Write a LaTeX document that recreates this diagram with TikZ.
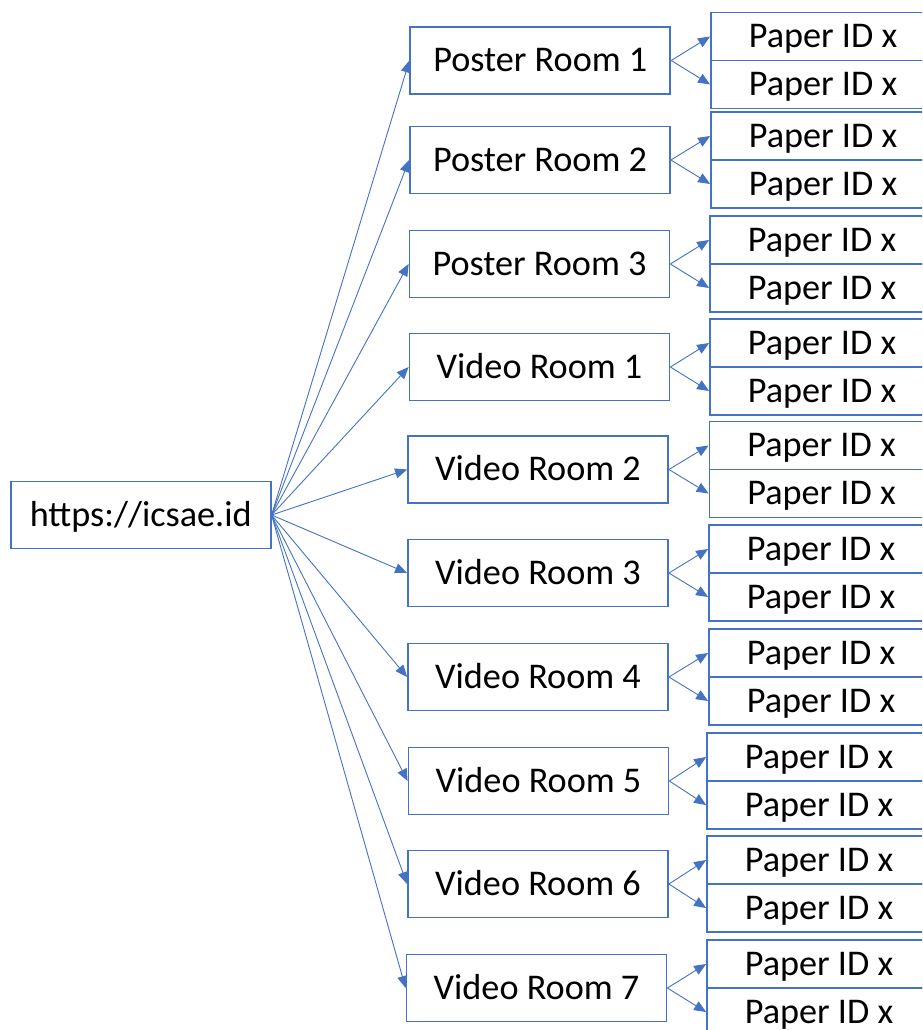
\documentclass[tikz,border=0pt]{standalone}
\usepackage{fontspec}
\setmainfont{Carlito}
\usepackage{tikz}
\usetikzlibrary{arrows.meta}
\definecolor{boxblue}{HTML}{4472C4}

\begin{document}
\begin{tikzpicture}[x=1pt,y=-1pt,
  font=\fontsize{36.2}{40}\selectfont,
  room/.style={shape=rectangle,draw=boxblue,line width=1.8pt,inner sep=0pt,text height=22pt,text depth=0pt,minimum width=260pt,minimum height=67pt},
  paper/.style={shape=rectangle,draw=boxblue,line width=1.8pt,inner sep=0pt,text height=22pt,text depth=0pt,minimum width=224pt,minimum height=48pt},
  arr/.style={draw=boxblue,line width=0.9pt,-{Triangle[length=12pt,width=10pt]}}]
\useasboundingbox (0,0) rectangle (922,1030);
\clip (0,0) rectangle (922,1030);
\node[room] (W) at (140.7,515) {https://icsae.id};
\node[room] (P1) at (540.3,60.5) {Poster Room 1};
\node[room] (P2) at (540,160) {Poster Room 2};
\node[room] (P3) at (539.5,264) {Poster Room 3};
\node[room] (V1) at (539.5,367) {Video Room 1};
\node[room] (V2) at (538,469.5) {Video Room 2};
\node[room] (V3) at (538,573) {Video Room 3};
\node[room] (V4) at (538,677) {Video Room 4};
\node[room] (V5) at (538.5,781) {Video Room 5};
\node[room] (V6) at (538,884) {Video Room 6};
\node[room] (V7) at (536.5,988) {Video Room 7};
\node[paper] (P1a) at (823,36.5) {Paper ID x};
\node[paper] (P1b) at (823,84.5) {Paper ID x};
\node[paper] (P2a) at (823,136) {Paper ID x};
\node[paper] (P2b) at (823,184) {Paper ID x};
\node[paper] (P3a) at (822,240) {Paper ID x};
\node[paper] (P3b) at (822,288) {Paper ID x};
\node[paper] (V1a) at (822,343) {Paper ID x};
\node[paper] (V1b) at (822,391) {Paper ID x};
\node[paper] (V2a) at (821.5,445.5) {Paper ID x};
\node[paper] (V2b) at (821.5,493.5) {Paper ID x};
\node[paper] (V3a) at (821,549) {Paper ID x};
\node[paper] (V3b) at (821,597) {Paper ID x};
\node[paper] (V4a) at (821,653) {Paper ID x};
\node[paper] (V4b) at (821,701) {Paper ID x};
\node[paper] (V5a) at (819,757) {Paper ID x};
\node[paper] (V5b) at (819,805) {Paper ID x};
\node[paper] (V6a) at (819,860) {Paper ID x};
\node[paper] (V6b) at (819,908) {Paper ID x};
\node[paper] (V7a) at (819,964) {Paper ID x};
\node[paper] (V7b) at (819,1012) {Paper ID x};
\path (W.east) edge[arr] (P1.west);
\path (W.east) edge[arr] (P2.west);
\path (W.east) edge[arr] (P3.west);
\path (W.east) edge[arr] (V1.west);
\path (W.east) edge[arr] (V2.west);
\path (W.east) edge[arr] (V3.west);
\path (W.east) edge[arr] (V4.west);
\path (W.east) edge[arr] (V5.west);
\path (W.east) edge[arr] (V6.west);
\path (W.east) edge[arr] (V7.west);
\path (P1.east) edge[arr] (P1a.west);
\path (P1.east) edge[arr] (P1b.west);
\path (P2.east) edge[arr] (P2a.west);
\path (P2.east) edge[arr] (P2b.west);
\path (P3.east) edge[arr] (P3a.west);
\path (P3.east) edge[arr] (P3b.west);
\path (V1.east) edge[arr] (V1a.west);
\path (V1.east) edge[arr] (V1b.west);
\path (V2.east) edge[arr] (V2a.west);
\path (V2.east) edge[arr] (V2b.west);
\path (V3.east) edge[arr] (V3a.west);
\path (V3.east) edge[arr] (V3b.west);
\path (V4.east) edge[arr] (V4a.west);
\path (V4.east) edge[arr] (V4b.west);
\path (V5.east) edge[arr] (V5a.west);
\path (V5.east) edge[arr] (V5b.west);
\path (V6.east) edge[arr] (V6a.west);
\path (V6.east) edge[arr] (V6b.west);
\path (V7.east) edge[arr] (V7a.west);
\path (V7.east) edge[arr] (V7b.west);
\end{tikzpicture}
\end{document}
